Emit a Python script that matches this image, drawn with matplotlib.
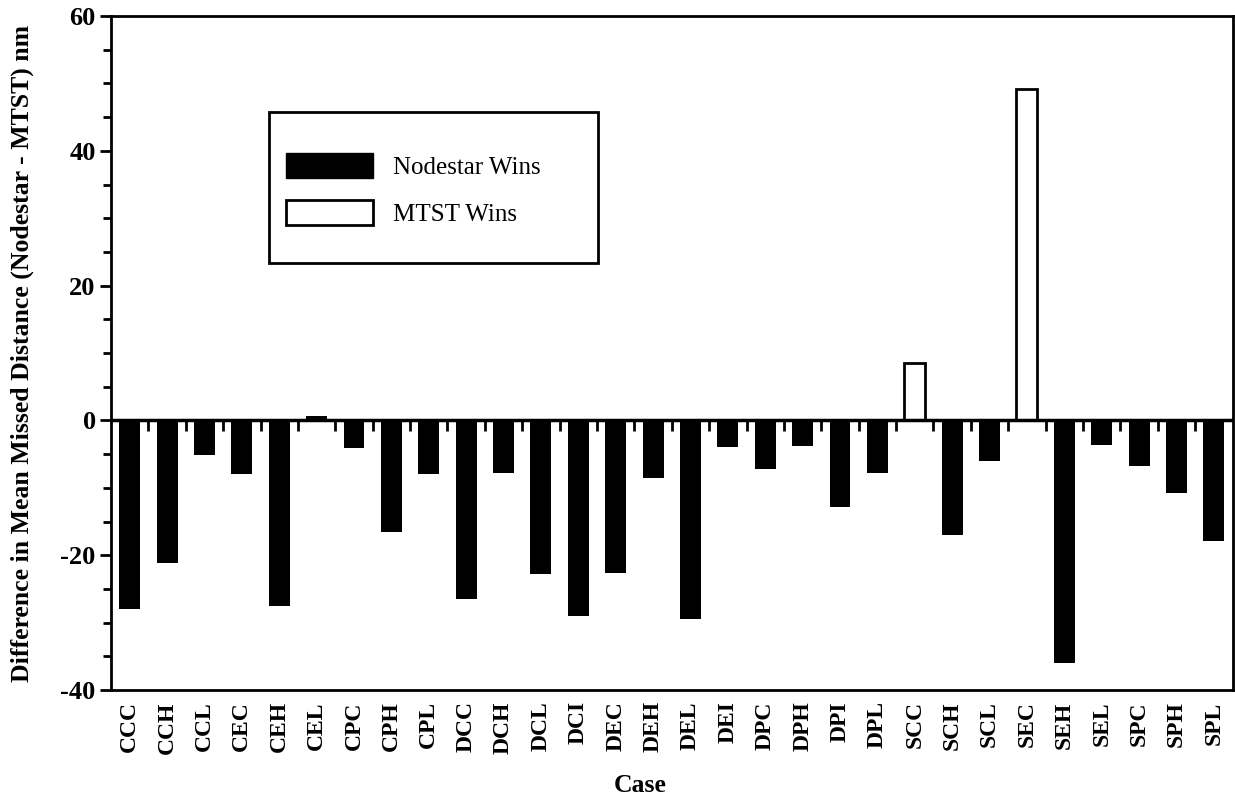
import matplotlib
matplotlib.use("Agg")
import matplotlib.pyplot as plt
from matplotlib.patches import Patch, Rectangle
from matplotlib.ticker import MultipleLocator

cases = ["CCC", "CCH", "CCL", "CEC", "CEH", "CEL", "CPC", "CPH", "CPL",
         "DCC", "DCH", "DCL", "DCI", "DEC", "DEH", "DEL", "DEI", "DPC",
         "DPH", "DPI", "DPL", "SCC", "SCH", "SCL", "SEC", "SEH", "SEL",
         "SPC", "SPH", "SPL"]
diff_nm = [-28.0, -21.2, -5.1, -7.9, -27.5, 0.7, -4.1, -16.6, -8.0,
           -26.5, -7.8, -22.7, -29.0, -22.6, -8.5, -29.4, -4.0, -7.2,
           -3.8, -12.8, -7.8, 8.6, -17.0, -6.0, 49.2, -36.0, -3.6,
           -6.7, -10.8, -17.8]

plt.rcParams["font.family"] = ["Liberation Serif", "DejaVu Serif"]
plt.rcParams["axes.unicode_minus"] = False

fig = plt.figure(figsize=(12.35, 7.97), dpi=100)
ax = fig.add_axes([0.0899, 0.134, 0.9081, 0.846])

x = list(range(len(cases)))
nodestar = [v if v <= 1 else 0 for v in diff_nm]
mtst = [v if v > 1 else 0 for v in diff_nm]
ax.bar(x, nodestar, width=0.56, color="black", linewidth=0)
ax.bar([i for i, v in zip(x, mtst) if v], [v for v in mtst if v], width=0.56,
       facecolor="white", edgecolor="black", linewidth=2)

ax.axhline(0, color="black", linewidth=2.5, zorder=3)
# small separators hanging below the zero line
ax.vlines([i + 0.5 for i in x[:-1]], -1.5, 0, color="black", linewidth=2, zorder=3)

ax.set_xlim(-0.5, len(cases) - 0.5)
ax.set_ylim(-40, 60)
ax.yaxis.set_major_locator(MultipleLocator(20))
ax.yaxis.set_minor_locator(MultipleLocator(5))
ax.tick_params(axis="y", which="major", direction="out", length=8, width=2,
               labelsize=19, pad=3)
ax.tick_params(axis="y", which="minor", direction="out", length=6, width=2)
for lbl in ax.get_yticklabels():
    lbl.set_fontweight("bold")

ax.set_xticks(x)
ax.set_xticklabels(cases, rotation=90, fontsize=17, fontweight="bold")
ax.tick_params(axis="x", length=0, pad=8)

for sp in ax.spines.values():
    sp.set_linewidth(2)

ax.set_ylabel("Difference in Mean Missed Distance (Nodestar - MTST) nm",
              fontsize=18.5, fontweight="bold")
ax.yaxis.set_label_coords(-0.069, 0.5)
ax.set_xlabel("Case", fontsize=18.5, fontweight="bold")
ax.xaxis.set_label_coords(0.472, -0.124)

# legend box drawn by hand so the padding can be set freely
ax.add_patch(Rectangle((0.141, 0.634), 0.293, 0.224, transform=ax.transAxes,
                       facecolor="white", edgecolor="black", linewidth=2,
                       zorder=4))
handles = [Patch(facecolor="black", edgecolor="black", label="Nodestar Wins"),
           Patch(facecolor="white", edgecolor="black", linewidth=2,
                 label="MTST Wins")]
leg = ax.legend(handles=handles, loc="upper left",
                bbox_to_anchor=(0.156, 0.797), frameon=False, fontsize=18,
                handlelength=3.5, handleheight=1.15, handletextpad=0.8,
                labelspacing=0.85, borderpad=0, borderaxespad=0)
leg.set_zorder(5)

fig.savefig("out.png", dpi=100)
